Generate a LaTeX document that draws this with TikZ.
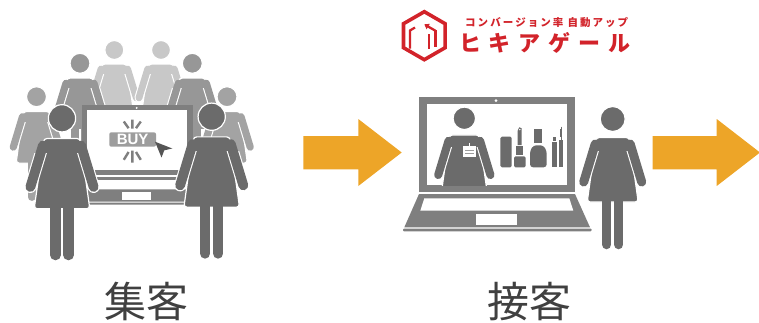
\documentclass[tikz,border=0pt]{standalone}
\usepackage{fontspec}
\usetikzlibrary{arrows.meta}
\newfontfamily\jpfont{Noto Sans CJK JP}
\newfontfamily\buyfont{Liberation Sans}

\definecolor{figgray}{HTML}{6B6B6B}
\definecolor{laptopgray}{HTML}{7F7F7F}
\definecolor{crowdlight}{HTML}{C8C8C8}
\definecolor{crowdmid}{HTML}{979797}
\definecolor{crowdnear}{HTML}{A3A3A3}
\definecolor{arroworange}{HTML}{EDA528}
\definecolor{logored}{HTML}{D2232A}
\definecolor{captiongray}{HTML}{404040}
\definecolor{buttongray}{HTML}{9D9D9D}
\definecolor{burstgray}{HTML}{7F7F7F}
\definecolor{cursorgray}{HTML}{555555}

% woman pictogram: #1,#2 head centre, #3 scale, #4 colour
\newcommand\womanfig[4]{%
  \begin{scope}[shift={(#1,#2)},scale=#3]
    \draw[white,line width=#3*9.5pt+2.4pt,line cap=round]
      (-6,86) -- (-6,125.5) (6,86) -- (6,125.5);
    \filldraw[fill=#4,draw=white,line width=1.2pt] (0,0) circle (12.5);
    \filldraw[fill=#4,draw=white,line width=1.2pt,rounded corners=3pt]
      (-16.5,18.5) -- (16.5,18.5) -- (25.5,83) -- (-25.5,83) -- cycle;
    \begin{scope}
      \clip (-45,32) rectangle (45,95);
      \draw[white,line width=#3*9pt+2.2pt,line cap=round]
        (-17.5,25) -- (-29,63) (17.5,25) -- (29,63);
    \end{scope}
    \draw[#4,line width=#3*9pt,line cap=round]
      (-17.5,25) -- (-29,63) (17.5,25) -- (29,63);
    \draw[#4,line width=#3*9.5pt,line cap=round]
      (-6,82) -- (-6,125.5) (6,82) -- (6,125.5);
  \end{scope}}

% laptop: #1,#2 top-left corner of the lid, #3,#4 horizontal and vertical scale
\newcommand\laptopfig[4]{%
  \begin{scope}[shift={(#1,#2)},xscale=#3,yscale=#4]
    \fill[laptopgray] (0,0) rectangle (156,95);
    \fill[white] (7.7,7.3) rectangle (148.3,88.3);
    \fill[white] (77,4) circle (1.5);
    \fill[laptopgray] (0,97.3) -- (156,97.3) -- (171,130.6) -- (-14.7,130.6) -- cycle;
    \fill[laptopgray,rounded corners=1pt] (-16,131.8) rectangle (172.5,134.6);
    \fill[white] (5.3,101.6) -- (150.3,101.6) -- (154.3,114) -- (1.3,114) -- cycle;
    \fill[white] (56.7,117.3) rectangle (97.7,128.3);
  \end{scope}}

\tikzset{
  flowarrow/.style={fill=arroworange},
  burst/.style={burstgray,line width=2.4pt},
  cosmetic/.style={fill=figgray},
  captiontext/.style={inner sep=0pt,text=captiongray,font=\jpfont\fontsize{42}{42}\selectfont},
  logosmall/.style={inner sep=0pt,text=logored,font=\jpfont\bfseries\fontsize{10.5}{10.5}\selectfont},
  logobig/.style={inner sep=0pt,text=logored,font=\jpfont\bfseries\fontsize{22}{22}\selectfont},
  buytext/.style={inner sep=0pt,text=white,font=\buyfont\bfseries\fontsize{15}{15}\selectfont},
  logoline/.style={logored,line width=2.3pt}
}

\begin{document}
\begin{tikzpicture}[x=1pt,y=-1pt]
\useasboundingbox (0,0) rectangle (759,322);

% ---- crowd behind the first laptop ----
\womanfig{114.3}{50}{0.76}{crowdlight}
\womanfig{161}{50}{0.76}{crowdlight}
\womanfig{80}{63.3}{0.8}{crowdmid}
\womanfig{192.3}{63.3}{0.8}{crowdmid}
\womanfig{36.5}{96.7}{0.8}{crowdnear}
\womanfig{227}{96.7}{0.8}{crowdnear}

% ---- first laptop with BUY button ----
\laptopfig{82}{105}{0.71}{0.74}
\fill[buttongray,rounded corners=2pt] (109.3,132.3) rectangle (156,146.7);
\node[buytext] (buy) at (132.6,139.6) {BUY};
\draw[burst] (132.3,119.5) -- (132.3,128.5)
             (123.8,121.5) -- (128.6,128.2)
             (140.8,121.5) -- (136,128.2);
\draw[burst] (132.3,150.5) -- (132.3,162.5)
             (123.8,159.8) -- (128.6,152)
             (140.8,159.8) -- (136,152);
\fill[cursorgray] (155,141.7) -- (172.3,148.5) -- (164.3,150.3) -- (161.5,157.5) -- cycle;

% ---- customers in front ----
\womanfig{62}{118.3}{1.09}{figgray}
\womanfig{211.7}{116.7}{1.09}{figgray}

% ---- arrows ----
\fill[flowarrow] (303.3,136) -- (358.3,136) -- (358.3,119) -- (401.7,152.5)
  -- (358.3,186) -- (358.3,169.3) -- (303.3,169.3) -- cycle;
\fill[flowarrow] (652.7,136) -- (716.7,136) -- (716.7,119) -- (760,152.5)
  -- (716.7,186) -- (716.7,169.3) -- (652.7,169.3) -- cycle;

% ---- second laptop: shop assistant and cosmetics on screen ----
\laptopfig{419}{96.7}{1}{1}
\begin{scope}
  \clip (426.7,104) rectangle (567.3,185);
  \womanfig{464.3}{118.3}{0.9}{figgray}
\end{scope}
\fill[white] (462.7,146) rectangle (476,156.7);
\draw[white,line width=0.8pt] (469.5,142.8) -- (469.5,146);
\draw[buttongray,line width=0.8pt] (465,150) -- (473.7,150) (465,153) -- (473.7,153);
% compact
\fill[cosmetic,rounded corners=1.5pt] (500.3,136.7) rectangle (511.7,167.3);
% lipstick
\fill[cosmetic] (517.5,145) -- (517.5,131) -- (519.3,127.3) -- (521.7,128.3) -- (521.7,145) -- cycle;
\fill[white] (519.8,129.6) circle (0.8);
\fill[cosmetic] (516,145.5) rectangle (523.3,155.2);
\fill[cosmetic,rounded corners=1.5pt] (514,156.3) rectangle (525.7,167.3);
% nail polish
\fill[cosmetic] (534.3,129) rectangle (541.7,143.3);
\fill[cosmetic,rounded corners=3pt] (533.3,145.3) -- (543.4,145.3) -- (546.7,151)
  -- (546.7,167.3) -- (530,167.3) -- (530,151) -- cycle;
% mascara
\fill[cosmetic] (553,136.7) rectangle (556.3,141);
\fill[cosmetic] (552.3,141.5) rectangle (557.3,167.3);
\draw[figgray,line width=0.8pt] (561.2,126.5) -- (561.2,140);
\draw[figgray,line width=2.4pt] (561.2,128.5) -- (561.2,136.5);
\fill[cosmetic] (559.2,139.5) rectangle (563.3,167.3);

% ---- customer at the second laptop ----
\womanfig{612.7}{119}{1}{figgray}

% ---- logo ----
\draw[logored,line width=3.6pt,line join=miter]
  (424.3,11.7) -- (445.1,23.7) -- (445.1,47.7) -- (424.3,59.7)
  -- (403.5,47.7) -- (403.5,23.7) -- cycle;
\draw[logoline] (410,48.5) -- (410,30.5) -- (415,27.5);
\draw[logoline] (429.3,34) -- (429.3,49);
\draw[logoline] (435.5,30) -- (435.5,47);
\draw[logoline,-{Triangle[length=4.5pt,width=6pt]}] (435.5,30.8) -- (424.3,24.3);
\node[logosmall] (tagline) at (546.7,22.7)
  {\makebox[163pt][s]{コ\hfil ン\hfil バ\hfil ー\hfil ジ\hfil ョ\hfil ン\hfil 率\hfil\hfil 自\hfil 動\hfil ア\hfil ッ\hfil プ}};
\node[logobig] (brand) at (544.9,42.5)
  {\makebox[171.7pt][s]{ヒ\hfill キ\hfill ア\hfill ゲ\hfill ー\hfill ル}};

% ---- captions ----
\node[captiontext] (collect) at (146.2,301.6) {集客};
\node[captiontext] (serve) at (529.7,301.6) {接客};
\end{tikzpicture}
\end{document}
